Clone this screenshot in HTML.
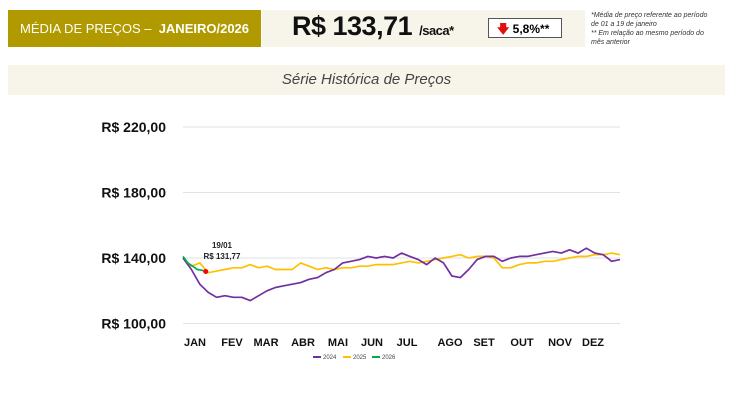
<!DOCTYPE html>
<html><head><meta charset="utf-8"><style>
body{margin:0;width:729px;height:410px;background:#fff;font-family:"Liberation Sans",sans-serif;position:relative;overflow:hidden}
.abs{position:absolute}
</style></head><body>
<div class="abs" style="left:8px;top:10px;width:253px;height:37px;background:#b09a00;color:#fff;font-size:13px;line-height:37px;text-align:center">MÉDIA DE PREÇOS – &nbsp;<b>JANEIRO/2026</b></div>
<div class="abs" style="left:262px;top:10px;width:323px;height:37px;background:#f7f4e9"></div>
<div class="abs" style="left:292px;top:11px;font-size:27px;font-weight:bold;color:#111;letter-spacing:-0.5px">R$ 133,71 <span style="font-size:13px">/saca*</span></div>
<div class="abs" style="left:488px;top:18px;width:74px;height:20px;border:1px solid #555;background:#fff;font-size:12px;font-weight:bold;line-height:20px;box-sizing:border-box;padding-left:8px"><span style="color:#e01010">&#129095;</span> 5,8%**</div>
<div class="abs" style="left:591px;top:11px;font-size:7px;font-style:italic;color:#333;line-height:9px;width:120px">*Média de preço referente ao período de 01 a 19 de janeiro<br>** Em relação ao mesmo período do mês anterior</div>
<div class="abs" style="left:8px;top:65px;width:717px;height:30px;background:#f7f4e9;text-align:center;line-height:30px;font-size:15px;font-style:italic;color:#444">Série Histórica de Preços</div>
<svg class="abs" style="left:0;top:0" width="729" height="410" id="chart"></svg>
<script>
const yTicks=[100,140,180,220];
const yTickLabels=["R$ 100,00","R$ 140,00","R$ 180,00","R$ 220,00"];
const months=["JAN","FEV","MAR","ABR","MAI","JUN","JUL","AGO","SET","OUT","NOV","DEZ"];
const monthPos=[1.43,5.83,9.88,14.28,18.44,22.49,26.66,31.77,35.82,40.34,44.86,48.79];
const s2024=[140,133,124,119,116,117,116,116,114,117,120,122,123,124,125,127,128,131,133,137,138,139,141,140,141,140,143,141,139,136,140,137,129,128,133,139,141,141,138,140,141,141,142,143,144,143,145,143,146,143,142,138,139];
const s2025=[140,135,137,131,132,133,134,134,136,134,135,133,133,133,137,135,133,134,133,134,134,135,135,136,136,136,137,138,137,138,139,140,141,142,140,141,141,140,134,134,136,137,137,138,138,139,140,141,141,142,142,143,142];
const s2026Days=[0,4,8,12,16,19];
const s2026=[141,137,135,133,132.5,131.77];
const ns="http://www.w3.org/2000/svg";
const svg=document.getElementById('chart');
const x0=183,x1=620;
const xw=w=>x0+w*(x1-x0)/52;
const xd=d=>x0+d*(x1-x0)/365;
const y=v=>258-(v-140)*(65.5/40);
function mk(t,a){const e=document.createElementNS(ns,t);for(const k in a)e.setAttribute(k,a[k]);svg.appendChild(e);return e;}
yTicks.forEach((v,i)=>{
 const g=mk('line',{x1:x0,x2:x1,y1:y(v),y2:y(v),stroke:'#e2e2e2','stroke-width':1});
 
 
 const t=mk('text',{x:166,y:y(v)+5,'text-anchor':'end','font-size':14,'font-weight':'bold',fill:'#111'});
 t.textContent=yTickLabels[i];
 
 
});
months.forEach((m,i)=>{
 const t=mk('text',{x:xw(monthPos[i]),y:346,'text-anchor':'middle','font-size':11,'font-weight':'bold',fill:'#111'});
 t.textContent=m;
 
 
});
function line(pts,color,name){
 const p=mk('polyline',{points:pts.map(p=>p[0].toFixed(1)+','+p[1].toFixed(1)).join(' '),fill:'none',stroke:color,'stroke-width':1.7,'stroke-linejoin':'round'});
 
 
}
line(s2025.map((v,i)=>[xw(i),y(v)]),'#ffc000','series-2025');
line(s2024.map((v,i)=>[xw(i),y(v)]),'#7030a0','series-2024');
line(s2026.map((v,i)=>[xd(s2026Days[i]),y(v)]),'#00b050','series-2026');
const li=s2026.length-1;
const dot=mk('circle',{cx:xd(s2026Days[li]),cy:y(s2026[li]),r:2.5,fill:'#ff0000'});


const a1=mk('text',{x:222,y:248,'text-anchor':'middle','font-size':8,'font-weight':'bold',fill:'#222'});a1.textContent='19/01';


const a2=mk('text',{x:222,y:259,'text-anchor':'middle','font-size':8,'font-weight':'bold',fill:'#222'});a2.textContent='R$ 131,77';


[['2024','#7030a0',313],['2025','#ffc000',343],['2026','#00b050',372]].forEach(l=>{
 const ln=mk('line',{x1:l[2],x2:l[2]+8,y1:357,y2:357,stroke:l[1],'stroke-width':2});
 
 
 const t=mk('text',{x:l[2]+10,y:359,'font-size':6,fill:'#444'});t.textContent=l[0];
 
 
});
</script>
</body></html>
